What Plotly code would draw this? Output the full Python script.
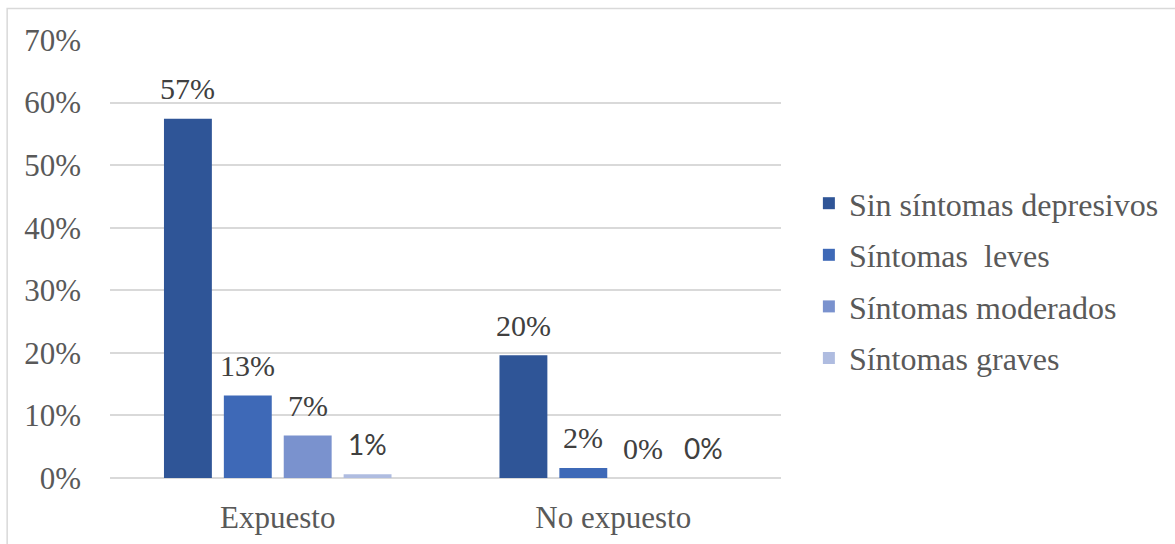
import plotly.graph_objects as go

categories = ["Expuesto", "No expuesto"]
series_names = ["Sin síntomas depresivos", "Síntomas  leves", "Síntomas moderados", "Síntomas graves"]
sin_sintomas = [57.4, 19.6]
leves = [13.2, 1.6]
moderados = [6.8, 0.0]
graves = [0.6, 0.0]
tick_values = [0, 10, 20, 30, 40, 50, 60, 70]
tick_labels = ["0%", "10%", "20%", "30%", "40%", "50%", "60%", "70%"]

series_values = [sin_sintomas, leves, moderados, graves]
colors = ["#2F5597", "#3E69B7", "#7A92CE", "#AFBCE0"]

SERIF = "'Times New Roman', 'Liberation Serif', serif"
SANS = "Lato, 'Liberation Sans', sans-serif"
SLOT = 60  # pixel width of one bar slot inside a category group

fig = go.Figure()
for name, vals, col in zip(series_names, series_values, colors):
    fig.add_trace(go.Bar(
        x=categories, y=vals, name=name, marker_color=col,
        marker_line_width=0, legendgroup=name,
    ))

# value labels above each bar; the "graves" series uses a sans face
annotations = []
for i, vals in enumerate(series_values):
    for cat, v in zip(categories, vals):
        sans = i == 3
        annotations.append(dict(
            x=cat, y=v, xref="x", yref="y", text=f"{v:.0f}%", showarrow=False,
            xshift=(i - 1.5) * SLOT, yshift=30,
            font=dict(family=SANS if sans else SERIF, size=28 if sans else 30,
                      color="#404040"),
            yanchor="middle", xanchor="center",
        ))

fig.update_layout(
    width=1175, height=544,
    margin=dict(l=110, r=393, t=40, b=66),
    paper_bgcolor="white", plot_bgcolor="white",
    barmode="group", bargap=0.286, bargroupgap=0.2,
    annotations=annotations,
    legend=dict(
        x=1.04, xanchor="left", y=0.45, yanchor="middle",
        font=dict(family=SERIF, size=32, color="#595959"),
        traceorder="grouped", tracegroupgap=7,
        bgcolor="rgba(0,0,0,0)",
    ),
    xaxis=dict(
        type="category", showgrid=False, showline=False, zeroline=False,
        tickfont=dict(family=SERIF, size=31, color="#595959"),
        ticks="", ticklabelstandoff=18, automargin=False,
    ),
    yaxis=dict(
        range=[0, 70], tickmode="array", tickvals=tick_values, ticktext=tick_labels,
        showgrid=True, gridcolor="#D9D9D9", gridwidth=1.5,
        zeroline=True, zerolinecolor="#D9D9D9", zerolinewidth=1.5,
        showline=False, ticks="",
        tickfont=dict(family=SERIF, size=31, color="#595959"),
        ticklabelstandoff=28, automargin=False,
    ),
    shapes=[dict(
        type="rect", xref="paper", yref="paper",
        x0=(7 - 110) / 672, x1=(1185 - 110) / 672,
        y0=(478 - 560) / 438, y1=(478 - 8.5) / 438,
        line=dict(color="#D9D9D9", width=1.5), layer="below",
    )],
)

fig.write_html("out.html")
